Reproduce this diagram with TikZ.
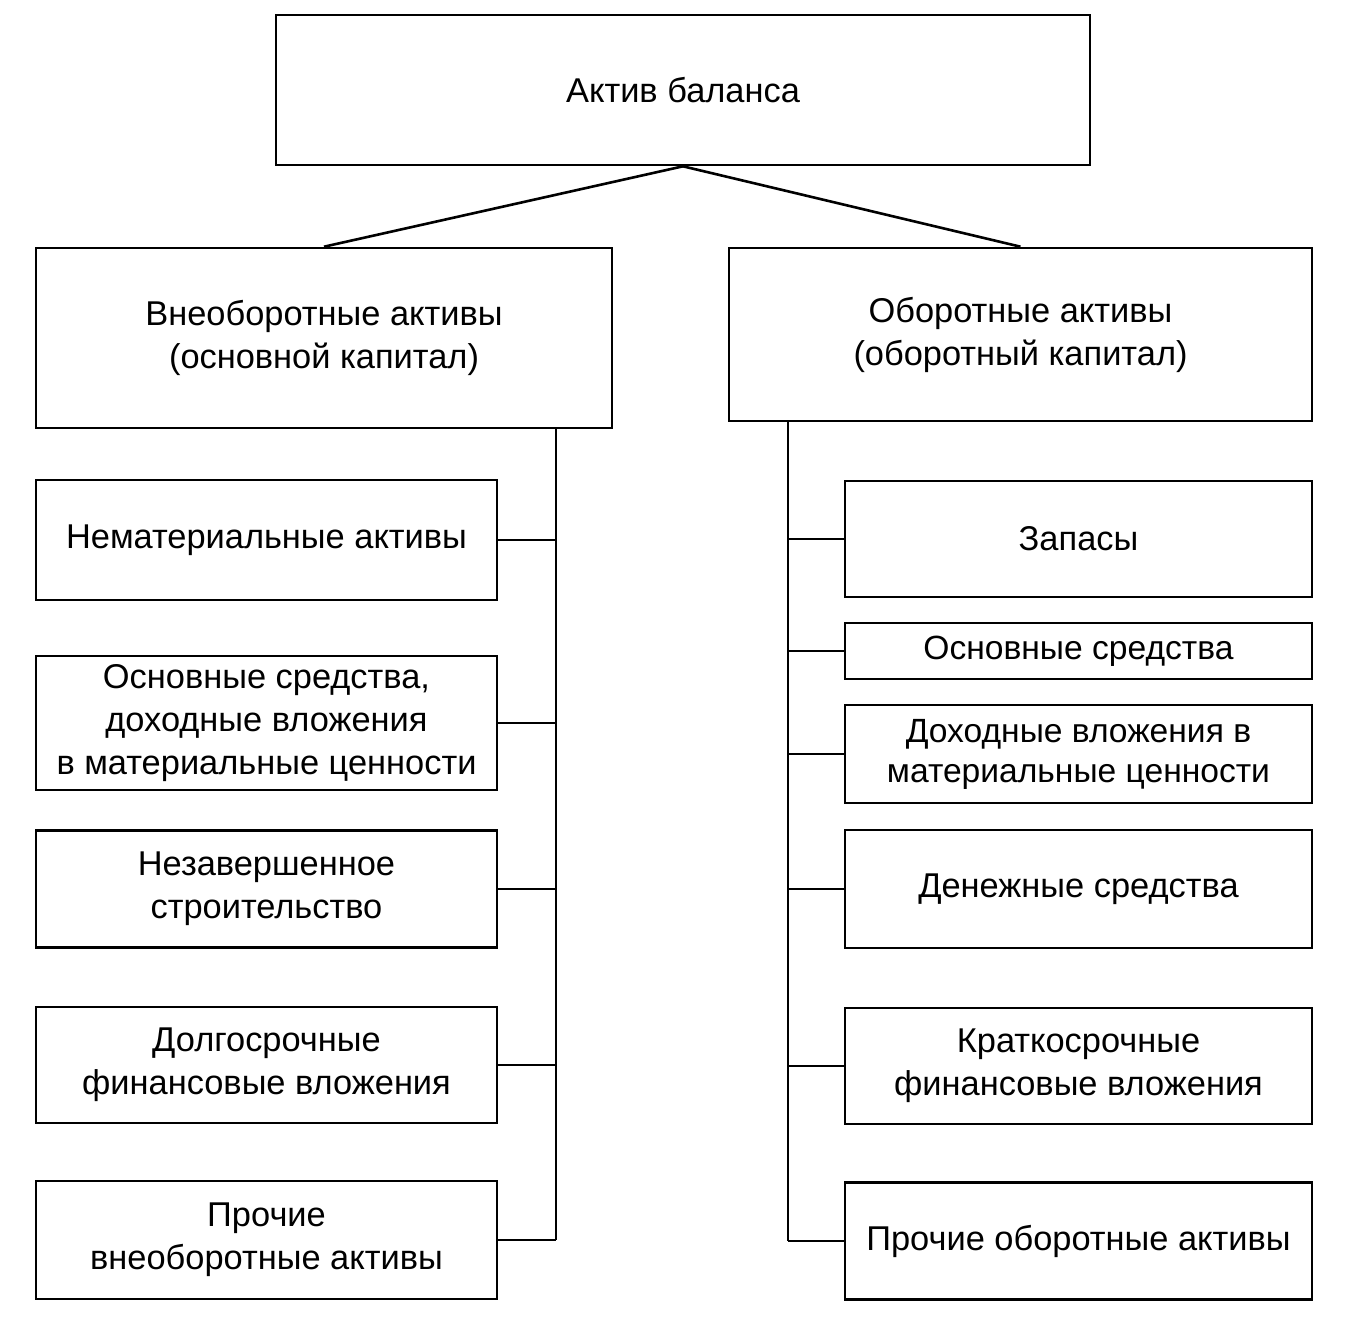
\documentclass[tikz,border=0pt]{standalone}
\usepackage{fontspec}
\setmainfont{Liberation Sans}
\begin{document}
\begin{tikzpicture}[x=0.5pt,y=-0.5pt,
  box/.style={draw=black, line width=1.3pt, align=center, inner sep=2pt,
    font=\fontsize{17.2}{21.5}\selectfont},
  smallbox/.style={box, font=\fontsize{16.8}{20}\selectfont},
  conn/.style={draw=black, line width=1.3pt}]
\useasboundingbox[fill=white] (0,0) rectangle (1351,1330);
\node[box, minimum width=407pt, minimum height=75pt] (top) at (683,90) {Актив баланса};
\node[box, minimum width=288pt, minimum height=90pt] (lmain) at (324,338) {Внеоборотные активы\\(основной капитал)};
\node[box, minimum width=291.5pt, minimum height=86.5pt] (rmain) at (1020.5,334.5) {Оборотные активы\\(оборотный капитал)};
% left column
\node[box, minimum width=230.5pt, minimum height=60pt] (l1) at (266.5,540) {Нематериальные активы};
\node[box, minimum width=230.5pt, minimum height=67pt] (l2) at (266.5,723) {Основные средства,\\доходные вложения\\в материальные ценности};
\node[box, minimum width=230.5pt, minimum height=58.5pt] (l3) at (266.5,889) {Незавершенное\\строительство};
\node[box, minimum width=230.5pt, minimum height=58pt] (l4) at (266.5,1065) {Долгосрочные\\финансовые вложения};
\node[box, minimum width=230.5pt, minimum height=59pt] (l5) at (266.5,1240) {Прочие\\внеоборотные активы};
% right column
\node[box, minimum width=233.5pt, minimum height=58pt] (r1) at (1078.5,539) {Запасы};
\node[smallbox, minimum width=233.5pt, minimum height=28pt] (r2) at (1078.5,651) {Основные средства};
\node[smallbox, minimum width=233.5pt, minimum height=49pt] (r3) at (1078.5,754) {Доходные вложения в\\материальные ценности};
\node[box, minimum width=233.5pt, minimum height=59pt] (r4) at (1078.5,889) {Денежные средства};
\node[box, minimum width=233.5pt, minimum height=58pt] (r5) at (1078.5,1066) {Краткосрочные\\финансовые вложения};
\node[box, minimum width=233.5pt, minimum height=58.5pt] (r6) at (1078.5,1241) {Прочие оборотные активы};
% connectors
\coordinate (lvx) at (556,0);
\coordinate (rvx) at (788,0);
\draw[conn] (top.south) -- (lmain.north);
\draw[conn] (top.south) -- (rmain.north);
\draw[conn] (lmain.south -| lvx) -- (l5.east -| lvx);
\draw[conn] (rmain.south -| rvx) -- (r6.west -| rvx);
\foreach \n in {l1,l2,l3,l4,l5} { \draw[conn] (\n.east) -- (\n.east -| lvx); }
\foreach \n in {r1,r2,r3,r4,r5,r6} { \draw[conn] (\n.west) -- (\n.west -| rvx); }
\end{tikzpicture}
\end{document}
